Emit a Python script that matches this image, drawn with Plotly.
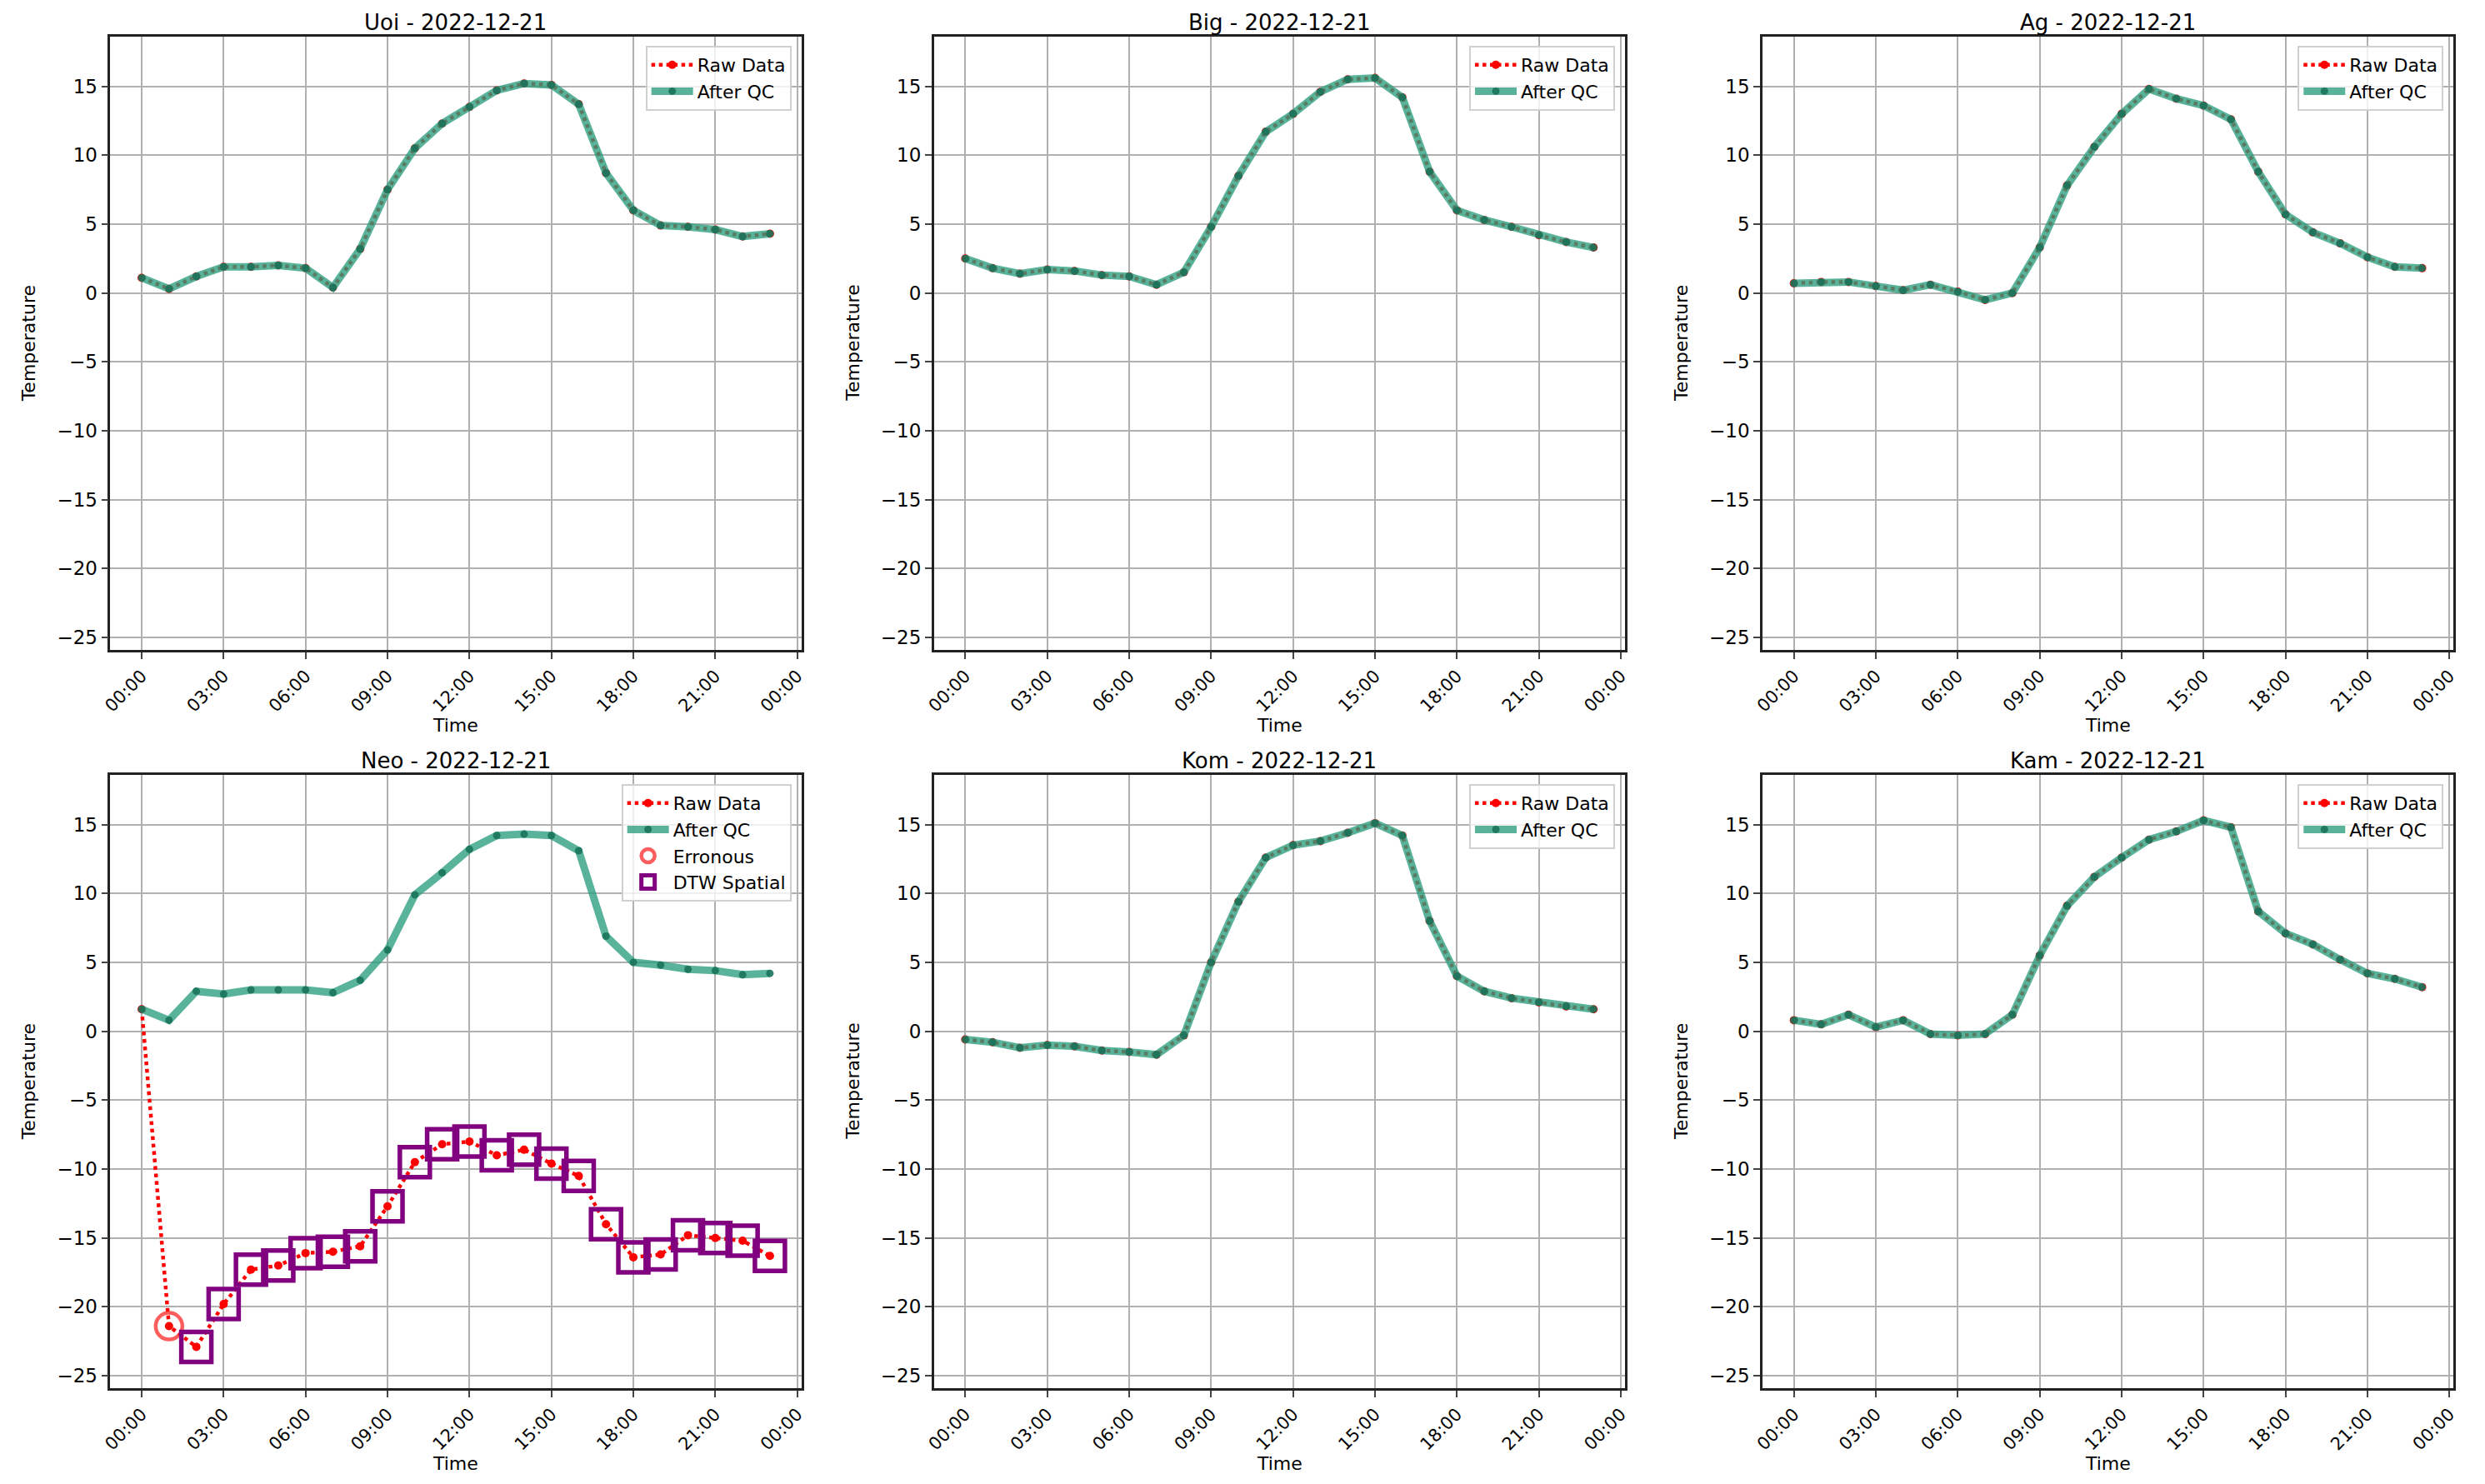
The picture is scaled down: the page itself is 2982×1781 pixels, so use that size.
import plotly.graph_objects as go

hours = list(range(24))
tick_vals = [0, 3, 6, 9, 12, 15, 18, 21, 24]
tick_text = ["00:00", "03:00", "06:00", "09:00", "12:00", "15:00", "18:00", "21:00", "00:00"]
y_ticks = [-25, -20, -15, -10, -5, 0, 5, 10, 15]

stations = ["Uoi", "Big", "Ag", "Neo", "Kom", "Kam"]
date_label = "2022-12-21"

uoi_raw = [1.1, 0.3, 1.2, 1.9, 1.9, 2.0, 1.8, 0.4, 3.2, 7.5, 10.5, 12.3, 13.5, 14.7, 15.2, 15.1, 13.7, 8.7, 6.0, 4.9, 4.8, 4.6, 4.1, 4.3]
uoi_qc = list(uoi_raw)
big_raw = [2.5, 1.8, 1.4, 1.7, 1.6, 1.3, 1.2, 0.6, 1.5, 4.8, 8.5, 11.7, 13.0, 14.6, 15.5, 15.6, 14.2, 8.8, 6.0, 5.3, 4.8, 4.2, 3.7, 3.3]
big_qc = list(big_raw)
ag_raw = [0.7, 0.8, 0.8, 0.5, 0.2, 0.6, 0.1, -0.5, 0.0, 3.3, 7.8, 10.6, 13.0, 14.8, 14.1, 13.6, 12.6, 8.8, 5.7, 4.4, 3.6, 2.6, 1.9, 1.8]
ag_qc = list(ag_raw)
neo_raw = [1.6, -21.4, -22.9, -19.8, -17.3, -17.0, -16.1, -16.0, -15.6, -12.7, -9.5, -8.2, -8.0, -9.0, -8.6, -9.6, -10.5, -14.0, -16.4, -16.2, -14.8, -15.0, -15.2, -16.3]
neo_qc = [1.6, 0.8, 2.9, 2.7, 3.0, 3.0, 3.0, 2.8, 3.7, 5.9, 9.9, 11.5, 13.2, 14.2, 14.3, 14.2, 13.1, 6.9, 5.0, 4.8, 4.5, 4.4, 4.1, 4.2]
neo_err_idx = [1]
neo_dtw_idx = list(range(2, 24))
kom_raw = [-0.6, -0.8, -1.2, -1.0, -1.1, -1.4, -1.5, -1.7, -0.3, 5.0, 9.4, 12.6, 13.5, 13.8, 14.4, 15.1, 14.2, 8.0, 4.0, 2.9, 2.4, 2.1, 1.8, 1.6]
kom_qc = list(kom_raw)
kam_raw = [0.8, 0.5, 1.2, 0.3, 0.8, -0.2, -0.3, -0.2, 1.2, 5.5, 9.1, 11.2, 12.6, 13.9, 14.5, 15.3, 14.8, 8.7, 7.1, 6.3, 5.2, 4.2, 3.8, 3.2]
kam_qc = list(kam_raw)

raw_data = [uoi_raw, big_raw, ag_raw, neo_raw, kom_raw, kam_raw]
qc_data = [uoi_qc, big_qc, ag_qc, neo_qc, kom_qc, kam_qc]

W, H = 2982, 1781
col_px = [(114, 948), (1108, 1942), (2108, 2942)]
row_px = [(36, 772), (922, 1658)]
xdoms = [[a / W, b / W] for a, b in col_px]
ydoms = [[1 - b / H, 1 - a / H] for a, b in row_px]

FONT = "DejaVu Sans"
fig = go.Figure()
layout = dict(width=W, height=H, plot_bgcolor="white", paper_bgcolor="white",
              margin=dict(l=0, r=0, t=0, b=0), font=dict(family=FONT, size=22, color="black"))
annotations = []

for i, name in enumerate(stations):
    r, c = divmod(i, 3)
    n = i + 1
    xa = "x" if n == 1 else f"x{n}"
    ya = "y" if n == 1 else f"y{n}"
    lg = "legend" if n == 1 else f"legend{n}"
    fig.add_trace(go.Scatter(x=hours, y=raw_data[i], mode="lines+markers", name="Raw Data",
                             line=dict(color="red", width=4.5, dash="dot"),
                             marker=dict(color="red", size=10), xaxis=xa, yaxis=ya, legend=lg))
    fig.add_trace(go.Scatter(x=hours, y=qc_data[i], mode="lines+markers", name="After QC",
                             line=dict(color="rgba(42,157,127,0.78)", width=9),
                             marker=dict(color="rgba(25,115,90,0.9)", size=9), xaxis=xa, yaxis=ya, legend=lg))
    if name == "Neo":
        fig.add_trace(go.Scatter(x=[hours[k] for k in neo_err_idx], y=[neo_raw[k] for k in neo_err_idx],
                                 mode="markers", name="Erronous",
                                 marker=dict(symbol="circle-open", size=32, color="rgba(255,40,40,0.75)", line=dict(width=4.5)),
                                 xaxis=xa, yaxis=ya, legend=lg))
        fig.add_trace(go.Scatter(x=[hours[k] for k in neo_dtw_idx], y=[neo_raw[k] for k in neo_dtw_idx],
                                 mode="markers", name="DTW Spatial",
                                 marker=dict(symbol="square-open", size=36, color="purple", line=dict(width=5.5)),
                                 xaxis=xa, yaxis=ya, legend=lg))
    axcommon = dict(showline=True, linecolor="#222", linewidth=2.5, mirror=True, showgrid=True,
                    gridcolor="#b0b0b0", gridwidth=2, ticks="outside", ticklen=8, tickwidth=2,
                    zeroline=False)
    layout["xaxis" if n == 1 else f"xaxis{n}"] = dict(
        axcommon, domain=xdoms[c], anchor=ya, range=[-1.15, 24.15], tickvals=tick_vals,
        ticktext=tick_text, tickangle=-45, tickfont=dict(size=21))
    layout["yaxis" if n == 1 else f"yaxis{n}"] = dict(
        axcommon, domain=ydoms[r], anchor=xa, range=[-25.9, 18.6], tickvals=y_ticks,
        ticktext=[str(v).replace("-", "\u2212") for v in y_ticks], tickfont=dict(size=23))
    layout[lg] = dict(x=xdoms[c][1] - 12 / W, y=ydoms[r][1] - 11 / H, xanchor="right", yanchor="top",
                      bgcolor="rgba(255,255,255,0.8)", bordercolor="#d0d0d0", borderwidth=2,
                      font=dict(size=22), tracegroupgap=0, itemwidth=50)
    annotations.append(dict(text=f"{name} - {date_label}", x=sum(xdoms[c]) / 2, y=ydoms[r][1],
                            xref="paper", yref="paper", xanchor="center", yanchor="middle", yshift=17,
                            showarrow=False, font=dict(size=26)))
    annotations.append(dict(text="Time", x=sum(xdoms[c]) / 2, y=ydoms[r][0],
                            xref="paper", yref="paper", xanchor="center", yanchor="middle", yshift=-90,
                            showarrow=False, font=dict(size=22)))
    annotations.append(dict(text="Temperature", x=xdoms[c][0], y=sum(ydoms[r]) / 2, textangle=-90,
                            xref="paper", yref="paper", xanchor="center", yanchor="middle", xshift=-98,
                            showarrow=False, font=dict(size=22)))

layout["annotations"] = annotations
layout["showlegend"] = True
fig.update_layout(**layout)
fig.write_html("out.html")
